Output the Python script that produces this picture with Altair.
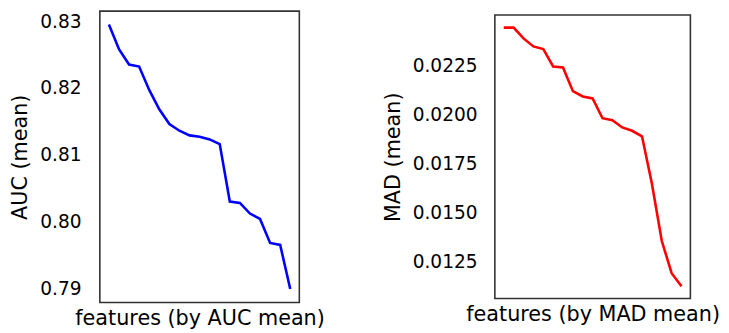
import altair as alt
import pandas as pd

rank = list(range(19))
auc_mean = [0.8295, 0.8258, 0.8235, 0.8232, 0.8197, 0.8168, 0.8146, 0.8136,
            0.8129, 0.8127, 0.8123, 0.8116, 0.8030, 0.8028, 0.8012, 0.8004,
            0.7968, 0.7965, 0.7899]
mad_mean = [0.02443, 0.02443, 0.02388, 0.02347, 0.02334, 0.02245, 0.02240,
            0.02119, 0.02092, 0.02082, 0.01981, 0.01971, 0.01934, 0.01917,
            0.01889, 0.01648, 0.01356, 0.01191, 0.01124]
auc_ticks = [0.79, 0.80, 0.81, 0.82, 0.83]
mad_ticks = [0.0125, 0.0150, 0.0175, 0.0200, 0.0225]

df_auc = pd.DataFrame({"rank": rank, "value": auc_mean})
df_mad = pd.DataFrame({"rank": rank, "value": mad_mean})

x_scale = alt.Scale(domain=[-0.9, 18.9], nice=False, zero=False)


def panel(df, color, xtitle, ytitle, ydomain, yticks, yfmt, w, h, lpad):
    return alt.Chart(df).mark_line(color=color, strokeWidth=2.6).encode(
        x=alt.X("rank:Q", scale=x_scale,
                axis=alt.Axis(title=xtitle, labels=False, ticks=False,
                              domain=False, grid=False, titlePadding=5)),
        y=alt.Y("value:Q", scale=alt.Scale(domain=ydomain, nice=False, zero=False),
                axis=alt.Axis(title=ytitle, values=yticks, format=yfmt,
                              ticks=False, domain=False, grid=False,
                              labelPadding=lpad, titlePadding=9)),
    ).properties(width=w, height=h)


left = panel(df_auc, "#0000ff", "features (by AUC mean)", "AUC (mean)",
             [0.7879, 0.8315], auc_ticks, ".2f", 202, 295, 19)
right = panel(df_mad, "#ff0000", "features (by MAD mean)", "MAD (mean)",
              [0.01062, 0.02507], mad_ticks, ".4f", 198, 287, 18)

chart = alt.hconcat(left, right, spacing=56, center=True).properties(
    padding={"left": 1, "top": 0, "right": 0, "bottom": 0}
).configure_view(
    stroke="#333333", strokeWidth=1.6
).configure_axis(
    labelFont="DejaVu Sans", labelFontSize=18.8, labelColor="black",
    titleFont="DejaVu Sans", titleFontSize=21.0, titleColor="black",
    titleFontWeight="normal"
)

chart.save("out.html", embed_options={"renderer": "svg", "actions": False})
